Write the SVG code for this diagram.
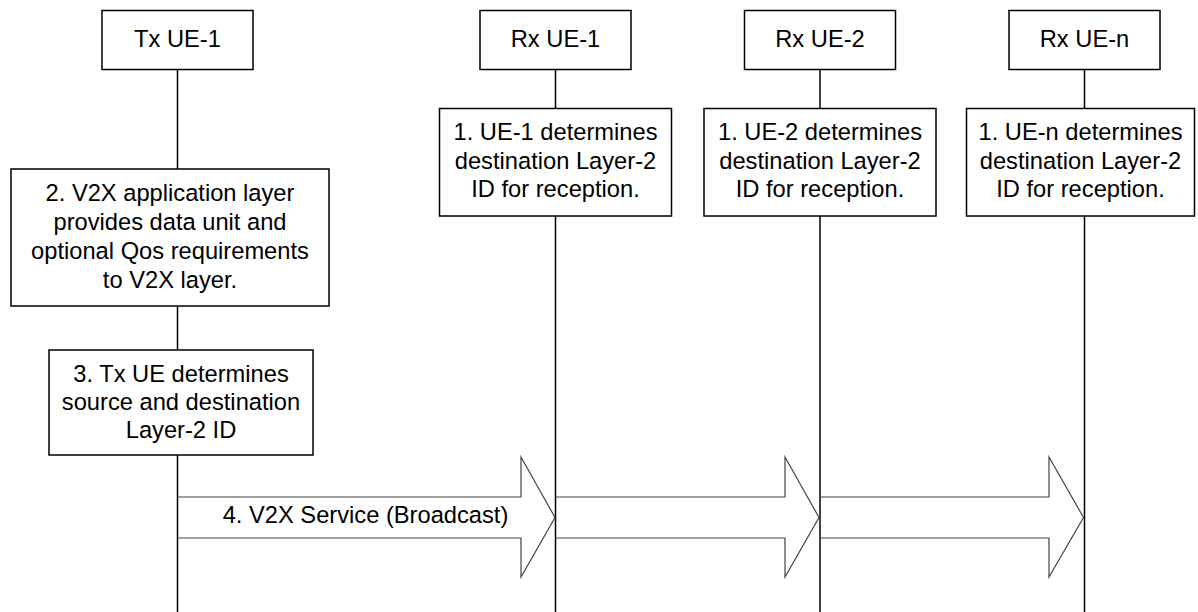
<svg xmlns="http://www.w3.org/2000/svg" width="1198" height="612" viewBox="0 0 1198 612">
<style>
.box{fill:#fff;stroke:#000;stroke-width:1.5}
.life{stroke:#000;stroke-width:1.5;fill:none}
.arr{fill:none;stroke:#444;stroke-width:1.2}
text{font-family:"Liberation Sans",Arial,sans-serif;font-size:23.7px;fill:#000;text-anchor:middle}
</style>
<rect width="1198" height="612" fill="#fff"/>
<g id="lifelines">
<line class="life" x1="177.5" y1="70" x2="177.5" y2="612"/>
<line class="life" x1="555.5" y1="70" x2="555.5" y2="612"/>
<line class="life" x1="820" y1="70" x2="820" y2="612"/>
<line class="life" x1="1084.5" y1="70" x2="1084.5" y2="612"/>
</g>
<g id="connectors">
<path class="arr" d="M177.5,497 H521 V457 L555,517.5 L521,577 V538 H177.5"/>
<path class="arr" d="M555.5,497 H785 V457 L819,517.5 L785,577 V538 H555.5"/>
<path class="arr" d="M820,497 H1049 V457 L1083.5,517.5 L1049,577 V538 H820"/>
<text x="365.5" y="523">4. V2X Service (Broadcast)</text>
</g>
<g id="tx-ue-1">
<rect class="box" x="102" y="10.5" width="151" height="59"/>
<text x="177.5" y="47">Tx UE-1</text>
</g>
<g id="rx-ue-1">
<rect class="box" x="480" y="10.5" width="151" height="59"/>
<text x="555.5" y="47">Rx UE-1</text>
</g>
<g id="rx-ue-2">
<rect class="box" x="744.5" y="10.5" width="151" height="59"/>
<text x="820" y="47">Rx UE-2</text>
</g>
<g id="rx-ue-n">
<rect class="box" x="1009" y="10.5" width="151" height="59"/>
<text x="1084.5" y="47">Rx UE-n</text>
</g>
<g id="step1-ue1">
<rect class="box" x="439.5" y="108.5" width="232" height="107.5"/>
<text x="555.5" y="140">1. UE-1 determines</text>
<text x="555.5" y="168.5">destination Layer-2</text>
<text x="555.5" y="197">ID for reception.</text>
</g>
<g id="step1-ue2">
<rect class="box" x="704" y="108.5" width="232" height="107.5"/>
<text x="820" y="140">1. UE-2 determines</text>
<text x="820" y="168.5">destination Layer-2</text>
<text x="820" y="197">ID for reception.</text>
</g>
<g id="step1-uen">
<rect class="box" x="966.5" y="108.5" width="228" height="107.5"/>
<text x="1080.5" y="140">1. UE-n determines</text>
<text x="1080.5" y="168.5">destination Layer-2</text>
<text x="1080.5" y="197">ID for reception.</text>
</g>
<g id="step2">
<rect class="box" x="11" y="169" width="318" height="137"/>
<text x="170" y="201">2. V2X application layer</text>
<text x="170" y="230">provides data unit and</text>
<text x="170" y="259">optional Qos requirements</text>
<text x="170" y="288">to V2X layer.</text>
</g>
<g id="step3">
<rect class="box" x="49" y="350" width="264" height="105"/>
<text x="181" y="382">3. Tx UE determines</text>
<text x="181" y="410">source and destination</text>
<text x="181" y="438">Layer-2 ID</text>
</g>
</svg>
